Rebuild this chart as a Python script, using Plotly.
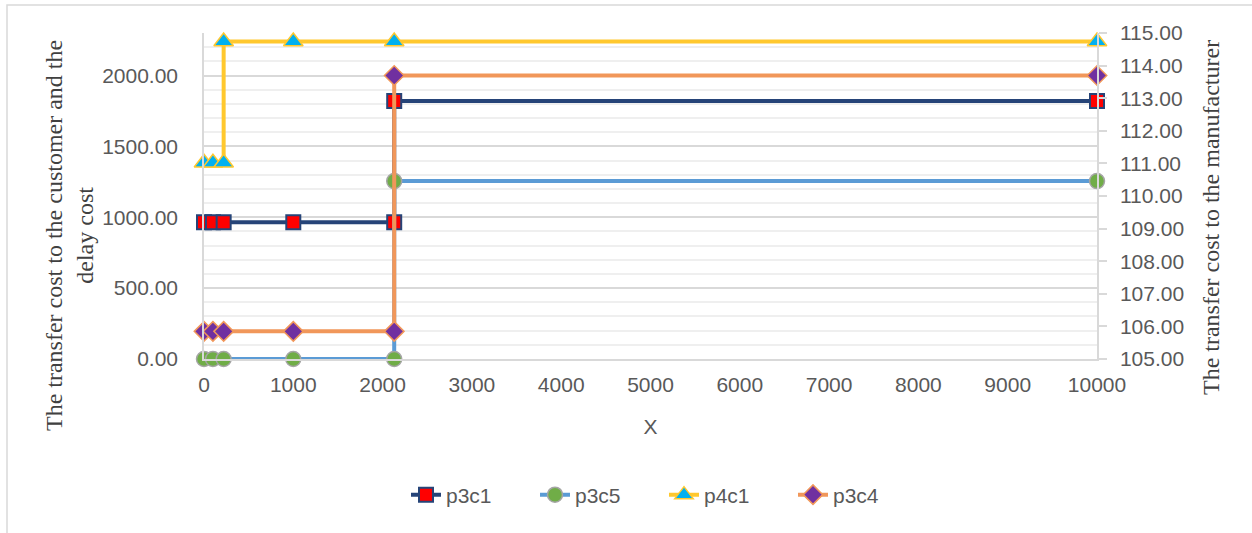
import plotly.graph_objects as go

# ---- data ----
p3c1_x = [0, 100, 220, 1000, 2130, 2130, 10000]
p3c1_y = [965, 965, 965, 965, 965, 1820, 1820]

p3c5_x = [0, 100, 220, 1000, 2130, 2130, 10000]
p3c5_y = [0, 0, 0, 0, 0, 1255, 1255]

p4c1_x = [0, 100, 220, 220, 1000, 2130, 10000]
p4c1_y = [1385, 1385, 1385, 2240, 2240, 2240, 2240]

p3c4_x = [0, 100, 220, 1000, 2130, 2130, 10000]
p3c4_y = [195, 195, 195, 195, 195, 2000, 2000]

left_range = [0, 2300]
right_range = [105, 115]
x_range = [0, 10000]

series_names = ["p3c1", "p3c5", "p4c1", "p3c4"]

# ---- layout constants ----
W, H = 1252, 533
L, R, T, B = 204, 155, 33, 174
PW = W - L - R
PH = H - T - B

def px_to_paper_x(px):
    return (px - L) / PW

def px_to_paper_y(py):
    return (H - B - py) / PH

TICK_FONT = dict(family="Liberation Sans, Arial, sans-serif", size=21, color="#595959")
TITLE_FONT = dict(family="Liberation Serif, Times New Roman, serif", size=24, color="#404040")

fig = go.Figure()

fig.add_trace(go.Scatter(
    x=p3c1_x, y=p3c1_y, name=series_names[0], mode="lines+markers",
    line=dict(color="#264478", width=4),
    marker=dict(symbol="square", size=14, color="#FF0000", line=dict(color="#264478", width=2)),
    cliponaxis=False))
fig.add_trace(go.Scatter(
    x=p3c5_x, y=p3c5_y, name=series_names[1], mode="lines+markers",
    line=dict(color="#5B9BD5", width=4),
    marker=dict(symbol="circle", size=15, color="#70AD47", line=dict(color="#A5A5A5", width=1.5)),
    cliponaxis=False))
fig.add_trace(go.Scatter(
    x=p4c1_x, y=p4c1_y, name=series_names[2], mode="lines+markers",
    line=dict(color="#FFC82E", width=4),
    marker=dict(symbol="triangle-up", size=17, color="#00B0F0", line=dict(color="#FFC82E", width=1.5)),
    cliponaxis=False))
fig.add_trace(go.Scatter(
    x=p3c4_x, y=p3c4_y, name=series_names[3], mode="lines+markers",
    line=dict(color="#F1975A", width=4),
    marker=dict(symbol="diamond", size=15, color="#7030A0", line=dict(color="#F1975A", width=1.5)),
    cliponaxis=False))
# attach secondary axis
fig.add_trace(go.Scatter(x=[None], y=[None], yaxis="y2", showlegend=False, hoverinfo="skip"))

fig.update_layout(
    width=W, height=H,
    margin=dict(l=L, r=R, t=T, b=B),
    paper_bgcolor="white", plot_bgcolor="white",
    font=TICK_FONT,
    xaxis=dict(
        range=x_range, dtick=1000, tick0=0, tickformat="d", showgrid=False, zeroline=False,
        showline=True, linecolor="#D9D9D9", linewidth=1.5,
        ticks="", tickfont=TICK_FONT, ticklabelstandoff=6,
        title=dict(text="X", font=TICK_FONT, standoff=24),
    ),
    yaxis=dict(
        range=left_range, dtick=500, tick0=0, tickformat=".2f",
        showgrid=True, gridcolor="#D9D9D9", gridwidth=1.5,
        minor=dict(dtick=100, showgrid=True, gridcolor="#EFEFEF", gridwidth=1.5),
        zeroline=False, showline=True, linecolor="#D9D9D9", linewidth=1.5,
        ticks="", tickfont=TICK_FONT, ticklabelstandoff=20,
    ),
    yaxis2=dict(
        overlaying="y", side="right", range=right_range, dtick=1, tick0=105,
        tickformat=".2f", showgrid=False, zeroline=False,
        showline=True, linecolor="#D9D9D9", linewidth=1.5,
        ticks="outside", ticklen=8, tickcolor="#D9D9D9", tickwidth=1.5,
        tickfont=TICK_FONT, ticklabelstandoff=9,
    ),
    legend=dict(
        orientation="h", xanchor="center", yanchor="middle",
        x=px_to_paper_x(664), y=px_to_paper_y(495),
        font=TICK_FONT, bgcolor="rgba(0,0,0,0)",
        entrywidth=84, entrywidthmode="pixels",
    ),
    showlegend=True,
    annotations=[
        dict(text="The transfer cost to the customer and the<br>delay cost",
             xref="paper", yref="paper", x=px_to_paper_x(69), y=px_to_paper_y(236),
             xanchor="center", yanchor="middle", textangle=-90, showarrow=False,
             font=TITLE_FONT),
        dict(text="The transfer cost to the manufacturer",
             xref="paper", yref="paper", x=px_to_paper_x(1211), y=px_to_paper_y(218),
             xanchor="center", yanchor="middle", textangle=-90, showarrow=False,
             font=TITLE_FONT),
    ],
    shapes=[
        dict(type="rect", xref="paper", yref="paper",
             x0=px_to_paper_x(7), x1=px_to_paper_x(1270),
             y0=px_to_paper_y(550), y1=px_to_paper_y(5),
             line=dict(color="#D9D9D9", width=1.5), fillcolor="rgba(0,0,0,0)", layer="below"),
    ],
)

fig.write_html("out.html", config={"displayModeBar": False},
               post_script="document.body.style.margin='0';document.body.style.overflow='hidden';")
